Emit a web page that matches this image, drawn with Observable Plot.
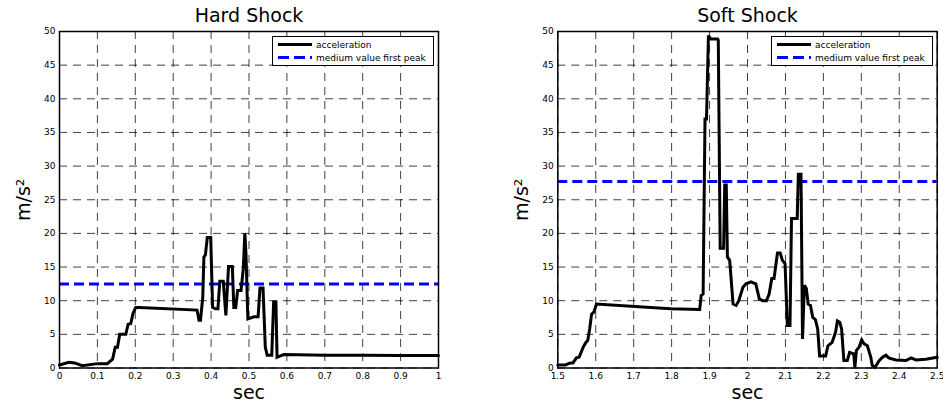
<!DOCTYPE html>
<html>
<head>
<meta charset="utf-8">
<script src="https://cdn.jsdelivr.net/npm/d3@7"></script>
<script src="https://cdn.jsdelivr.net/npm/@observablehq/plot@0.6"></script>
<style>
  body { margin: 0; background: #fff; }
  #wrap { position: relative; width: 943px; height: 403px; overflow: hidden; font-family: "DejaVu Sans", sans-serif; background:#fff; }
  .panel { position: absolute; top: 0; }
  .legend { position: absolute; box-sizing: border-box; background: #fff; border: 1.5px solid #000; font-size: 9px; color: #000; }
  .legend .row { position: absolute; left: 5px; display: flex; align-items: center; height: 12px; }
  .legend .sample { width: 34px; height: 3px; margin-right: 4px; }
  .legend .solid { background: #000; }
  .legend .dashed { background: repeating-linear-gradient(to right, #0000ff 0 11px, transparent 11px 16px); }
</style>
</head>
<body>
<div id="wrap"></div>
<script>
// ---- Data ----
const hardTime  = [0, 0.025, 0.04, 0.06, 0.1, 0.126, 0.14, 0.147, 0.153, 0.159, 0.175, 0.181, 0.188, 0.194, 0.201, 0.21, 0.363, 0.368, 0.372, 0.378, 0.381, 0.385, 0.39, 0.399, 0.404, 0.411, 0.418, 0.423, 0.432, 0.439, 0.446, 0.456, 0.46, 0.465, 0.47, 0.479, 0.485, 0.489, 0.492, 0.497, 0.513, 0.524, 0.529, 0.537, 0.543, 0.548, 0.56, 0.565, 0.571, 0.574, 0.583, 0.592, 0.7, 0.8, 0.9, 1.0];
const hardAccel = [0.45, 0.85, 0.75, 0.35, 0.65, 0.65, 1.3, 3.1, 3.1, 5.0, 5.0, 6.5, 6.6, 8.1, 9.0, 9.0, 8.6, 7.1, 7.1, 10.5, 16.5, 16.8, 19.4, 19.4, 9.0, 8.8, 8.8, 12.9, 12.9, 7.8, 15.1, 15.1, 9.0, 9.0, 11.5, 11.5, 14.8, 20.0, 17.0, 7.3, 7.6, 7.6, 11.9, 11.9, 3.1, 1.9, 1.9, 9.8, 9.8, 1.6, 1.8, 2.0, 1.9, 1.9, 1.85, 1.85];
const hardMedium = 12.5;

const softTime  = [1.5, 1.52, 1.533, 1.54, 1.549, 1.556, 1.567, 1.574, 1.579, 1.584, 1.589, 1.595, 1.602, 1.797, 1.874, 1.878, 1.883, 1.888, 1.892, 1.897, 1.903, 1.921, 1.923, 1.928, 1.937, 1.94, 1.944, 1.947, 1.953, 1.962, 1.97, 1.977, 1.988, 1.996, 2.009, 2.022, 2.031, 2.04, 2.05, 2.057, 2.064, 2.07, 2.079, 2.086, 2.092, 2.099, 2.105, 2.112, 2.116, 2.131, 2.134, 2.141, 2.145, 2.15, 2.155, 2.16, 2.166, 2.172, 2.179, 2.185, 2.19, 2.206, 2.212, 2.223, 2.232, 2.237, 2.243, 2.248, 2.254, 2.263, 2.269, 2.28, 2.283, 2.287, 2.294, 2.301, 2.307, 2.316, 2.325, 2.329, 2.336, 2.347, 2.356, 2.365, 2.372, 2.391, 2.418, 2.431, 2.444, 2.47, 2.5];
const softAccel = [0.45, 0.45, 0.75, 0.75, 1.5, 1.6, 3.1, 3.8, 4.1, 5.8, 8.0, 8.3, 9.5, 8.8, 8.7, 10.8, 11.0, 37.0, 37.0, 49.4, 48.9, 48.9, 48.7, 17.8, 17.8, 27.2, 27.2, 16.5, 16.0, 9.5, 9.3, 10.0, 12.0, 12.5, 12.8, 12.5, 10.3, 10.0, 10.0, 11.0, 13.3, 13.3, 17.1, 17.1, 16.0, 15.5, 6.3, 6.3, 22.2, 22.2, 28.8, 28.8, 4.3, 12.3, 11.8, 9.5, 9.3, 7.5, 7.2, 5.8, 1.8, 1.8, 3.3, 3.8, 5.3, 7.0, 6.8, 5.8, 1.1, 1.1, 2.3, 2.1, 0.1, 2.6, 3.1, 4.2, 3.6, 3.3, 1.6, 0.35, 0.1, 1.1, 1.6, 1.9, 1.5, 1.2, 1.1, 1.5, 1.2, 1.3, 1.6];
const softMedium = 27.7;

const hardXTicks = [0, 0.1, 0.2, 0.3, 0.4, 0.5, 0.6, 0.7, 0.8, 0.9, 1];
const softXTicks = [1.5, 1.6, 1.7, 1.8, 1.9, 2, 2.1, 2.2, 2.3, 2.4, 2.5];
const yTicks = [0, 5, 10, 15, 20, 25, 30, 35, 40, 45, 50];
const titles = ["Hard Shock", "Soft Shock"];
const xLabel = "sec";
const yLabel = "m/s²";
const legendLabels = ["acceleration", "medium value first peak"];

// ---- Drawing ----
function panel({title, time, accel, medium, xTicks, width, marginLeft, marginRight}) {
  const data = time.map((t, i) => ({t, a: accel[i]}));
  const grid = {stroke: "#000", strokeOpacity: 0.75, strokeWidth: 1, strokeDasharray: "8,6"};
  return Plot.plot({
    width, height: 403,
    marginLeft, marginRight, marginTop: 31, marginBottom: 35.5,
    style: {fontFamily: "DejaVu Sans, sans-serif", fontSize: "9px", color: "#000", background: "transparent"},
    x: {domain: [xTicks[0], xTicks[xTicks.length - 1]]},
    y: {domain: [0, 50]},
    marks: [
      Plot.gridX(xTicks, grid),
      Plot.gridY(yTicks, grid),
      Plot.ruleY([medium], {stroke: "#0000ff", strokeWidth: 3, strokeDasharray: "10,5"}),
      Plot.line(data, {x: "t", y: "a", stroke: "#000", strokeWidth: 3, strokeLinejoin: "miter", strokeMiterlimit: 3}),
      Plot.frame({stroke: "#000", strokeWidth: 1.5}),
      Plot.axisX(xTicks, {tickSize: 0, tickPadding: 5, tickFormat: d => String(d), label: null, fontSize: 9}),
      Plot.axisY(yTicks, {tickSize: 0, tickPadding: 4, tickFormat: d => String(d), label: null, fontSize: 9}),
      Plot.text([title], {frameAnchor: "top", lineAnchor: "middle", textAnchor: "middle", dy: -16, fontSize: 19, fill: "#000"}),
      Plot.text([xLabel], {frameAnchor: "bottom", lineAnchor: "middle", textAnchor: "middle", dy: 25, fontSize: 19, fill: "#000"}),
      Plot.text([yLabel], {frameAnchor: "left", lineAnchor: "middle", textAnchor: "middle", dx: -36, rotate: -90, fontSize: 19, fill: "#000"})
    ]
  });
}

function legend(left) {
  const div = document.createElement("div");
  div.className = "legend";
  Object.assign(div.style, {left: left + "px", top: "36px", width: "162px", height: "29.5px"});
  const kinds = ["solid", "dashed"];
  legendLabels.forEach((lab, i) => {
    const row = document.createElement("div");
    row.className = "row";
    row.style.top = (i === 0 ? 1.5 : 14.5) + "px";
    const s = document.createElement("span");
    s.className = "sample " + kinds[i];
    const t = document.createElement("span");
    t.textContent = lab;
    row.appendChild(s); row.appendChild(t);
    div.appendChild(row);
  });
  return div;
}

const wrap = document.getElementById("wrap");
const p1 = panel({title: titles[0], time: hardTime, accel: hardAccel, medium: hardMedium, xTicks: hardXTicks, width: 471, marginLeft: 59, marginRight: 33});
p1.classList.add("panel"); p1.style.left = "0px";
const p2 = panel({title: titles[1], time: softTime, accel: softAccel, medium: softMedium, xTicks: softXTicks, width: 472, marginLeft: 86.3, marginRight: 6.3});
p2.classList.add("panel"); p2.style.left = "471px";
wrap.appendChild(p1);
wrap.appendChild(p2);
wrap.appendChild(legend(272));
wrap.appendChild(legend(771));
</script>
</body>
</html>
